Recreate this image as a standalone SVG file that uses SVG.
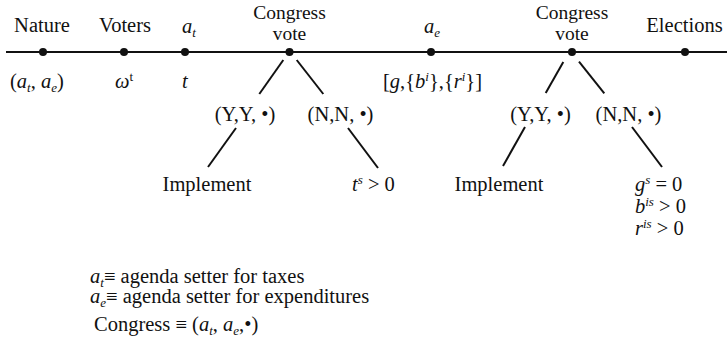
<svg xmlns="http://www.w3.org/2000/svg" width="727" height="361" viewBox="0 0 727 361">
<style>
text{font-family:"Liberation Serif","Times New Roman",serif;font-size:20.5px;fill:#111}
.c{text-anchor:middle}
.i{font-style:italic}
.s{font-size:13px}
.cv{font-size:19.5px}
.ln{stroke:#111;stroke-width:2;fill:none}
.dot{fill:#111}
</style>
<rect width="727" height="361" fill="#fff"/>
<g id="connectors">
<line class="ln" x1="6" y1="52" x2="727" y2="52"/>
<line class="ln" x1="283.3" y1="60" x2="259.3" y2="94"/>
<line class="ln" x1="296.7" y1="60" x2="323.3" y2="94"/>
<line class="ln" x1="236" y1="128" x2="208" y2="167"/>
<line class="ln" x1="348" y1="128" x2="378" y2="168"/>
<line class="ln" x1="563.3" y1="62" x2="545.7" y2="93"/>
<line class="ln" x1="579" y1="61.7" x2="604.3" y2="93.3"/>
<line class="ln" x1="525" y1="127" x2="503" y2="166"/>
<line class="ln" x1="632" y1="127" x2="662" y2="167"/>
</g>
<g id="nature">
<circle class="dot" cx="43" cy="52" r="4"/>
<text class="c" x="42" y="31.5">Nature</text>
<text x="10" y="88">(<tspan class="i">a</tspan><tspan class="i s" dy="4">t</tspan><tspan dy="-4">, </tspan><tspan class="i">a</tspan><tspan class="i s" dy="4">e</tspan><tspan dy="-4">)</tspan></text>
</g>
<g id="voters">
<circle class="dot" cx="124" cy="52" r="4"/>
<text class="c" x="125" y="31.5">Voters</text>
<text x="115" y="88"><tspan class="i">ω</tspan><tspan class="s" dy="-7">t</tspan></text>
</g>
<g id="at">
<circle class="dot" cx="185" cy="52" r="4"/>
<text x="182" y="33"><tspan class="i">a</tspan><tspan class="i s" dy="4">t</tspan></text>
<text class="i" x="182" y="88">t</text>
</g>
<g id="congress1">
<circle class="dot" cx="289.5" cy="52" r="4"/>
<text class="c cv" x="289.5" y="18.5">Congress</text>
<text class="c cv" x="289.5" y="40.2">vote</text>
</g>
<g id="yy1"><text class="c" x="245" y="121">(Y,Y, •)</text></g>
<g id="nn1"><text class="c" x="340.5" y="121">(N,N, •)</text></g>
<g id="impl1"><text class="c" x="207" y="191">Implement</text></g>
<g id="ts"><text x="352" y="191"><tspan class="i">t</tspan><tspan class="i s" dy="-7">s</tspan><tspan dy="7"> &gt; 0</tspan></text></g>
<g id="ae">
<circle class="dot" cx="431" cy="52" r="4"/>
<text x="424" y="33"><tspan class="i">a</tspan><tspan class="i s" dy="4">e</tspan></text>
<text x="383" y="88">[<tspan class="i">g</tspan>,{<tspan class="i">b</tspan><tspan class="i s" dy="-7">i</tspan><tspan dy="7">},{</tspan><tspan class="i">r</tspan><tspan class="i s" dy="-7">i</tspan><tspan dy="7">}]</tspan></text>
</g>
<g id="congress2">
<circle class="dot" cx="572" cy="52" r="4"/>
<text class="c cv" x="572" y="18.5">Congress</text>
<text class="c cv" x="572" y="40.2">vote</text>
</g>
<g id="yy2"><text class="c" x="540.5" y="121">(Y,Y, •)</text></g>
<g id="nn2"><text class="c" x="628.5" y="121">(N,N, •)</text></g>
<g id="impl2"><text class="c" x="499" y="191">Implement</text></g>
<g id="outcome2">
<text x="635" y="191"><tspan class="i">g</tspan><tspan class="i s" dy="-7">s</tspan><tspan dy="7"> = 0</tspan></text>
<text x="635" y="213"><tspan class="i">b</tspan><tspan class="i s" dy="-7">is</tspan><tspan dy="7"> &gt; 0</tspan></text>
<text x="635" y="235"><tspan class="i">r</tspan><tspan class="i s" dy="-7">is</tspan><tspan dy="7"> &gt; 0</tspan></text>
</g>
<g id="elections">
<circle class="dot" cx="685" cy="52" r="4"/>
<text class="c" x="684.5" y="31.5">Elections</text>
</g>
<g id="legend">
<text x="90" y="283"><tspan class="i">a</tspan><tspan class="i s" dy="4">t</tspan><tspan dy="-4">≡ agenda setter for taxes</tspan></text>
<text x="90" y="303"><tspan class="i">a</tspan><tspan class="i s" dy="4">e</tspan><tspan dy="-4">≡ agenda setter for expenditures</tspan></text>
<text x="94" y="331">Congress ≡ (<tspan class="i">a</tspan><tspan class="i s" dy="4">t</tspan><tspan dy="-4">, </tspan><tspan class="i">a</tspan><tspan class="i s" dy="4">e</tspan><tspan dy="-4">,•)</tspan></text>
</g>
</svg>
